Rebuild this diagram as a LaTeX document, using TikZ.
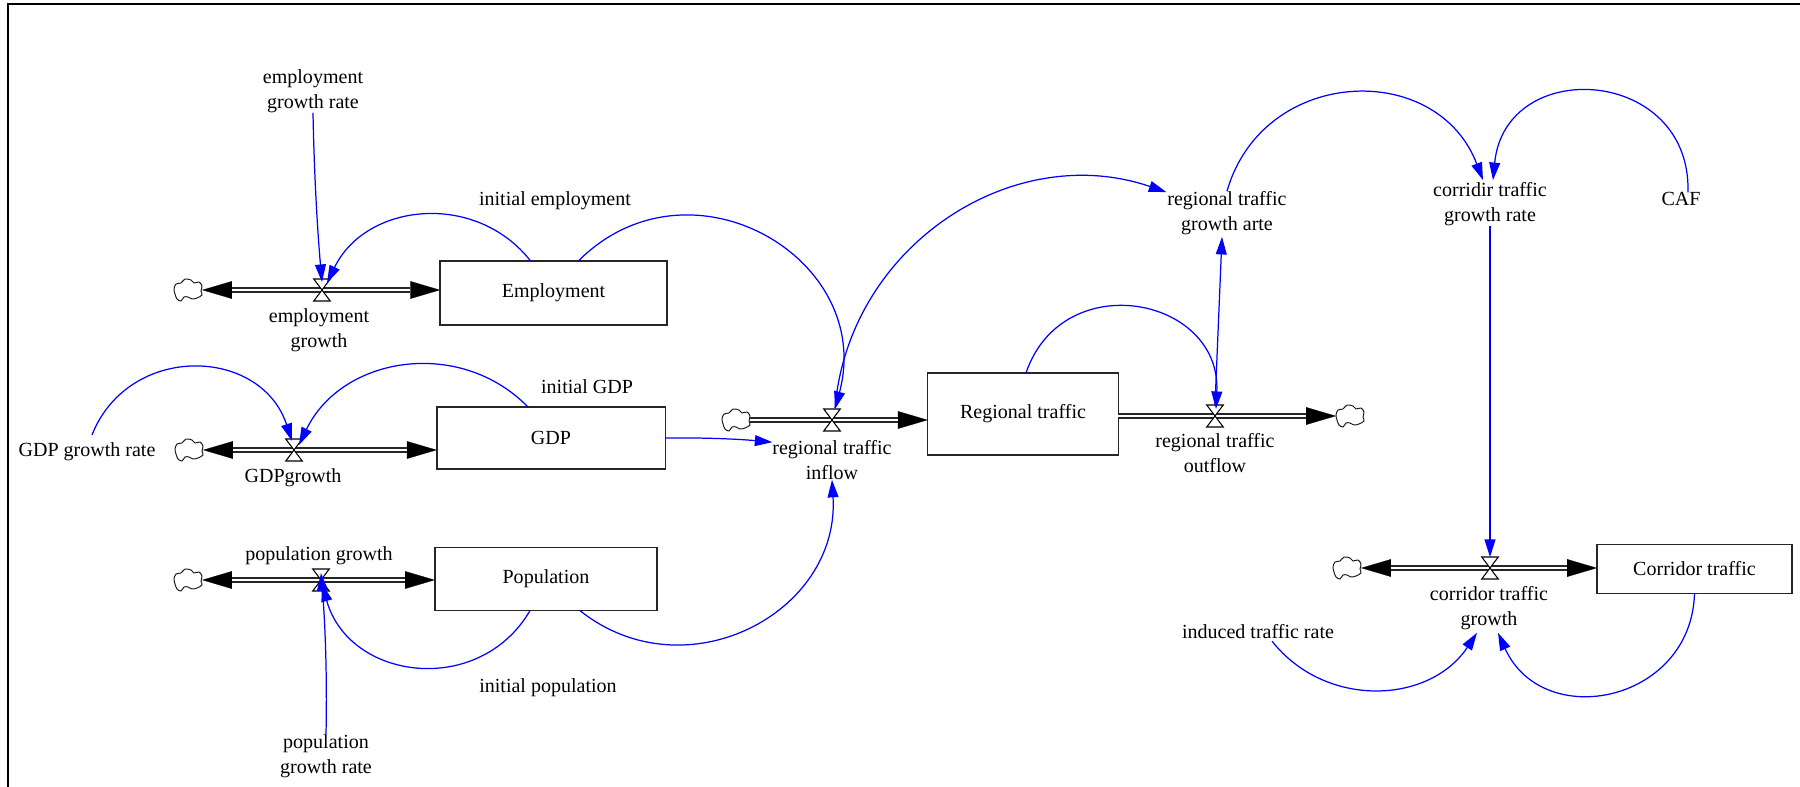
\documentclass[tikz,border=0pt]{standalone}
\usepackage{fontspec}
\setmainfont{Liberation Serif}
\usetikzlibrary{arrows.meta,calc}
\definecolor{linkblue}{RGB}{0,0,255}
\tikzset{
  lbl/.style={align=center,inner sep=0pt,outer sep=0pt,text=black,font=\fontsize{11.4}{14.4}\selectfont},
  stock/.style={draw=black!85,line width=0.8pt,fill=white,inner sep=0pt,outer sep=0pt,lbl},
  vnode/.style={inner sep=0pt,outer sep=0pt,minimum width=9.4pt,minimum height=12.5pt},
  cnode/.style={inner sep=0pt,outer sep=0pt,minimum width=16pt,minimum height=12.5pt},
  bow/.style={draw=black,line width=0.6pt,fill=white,line join=miter},
  pipe/.style={double=white,draw=black!85,line width=0.75pt,double distance=1.7pt},
  heavy/.style={draw=black,line width=0.1pt,-{Triangle[length=17pt,width=10pt,fill=black]}},
  link/.style={draw=linkblue,line width=0.7pt,-{Triangle[length=10pt,width=6.2pt,fill=linkblue]}},
  puff/.style={draw=black!90,line width=0.55pt,fill=white},
  arcb/.code={\pgfmathsetmacro\lo{1/(3*cos((#1)/2)^2)/0.3915}\tikzset{bend left=#1,looseness=\lo}}
}
\newcommand{\valve}[3]{%
  \node[vnode] (#1) at (#2,#3) {};
  \draw[bow] (#1.north west) -- (#1.north east) -- (#1.south west) -- (#1.south east) -- cycle;}
\newcommand{\puffcloud}[3]{%
  \node[cnode] (#1) at (#2,#3) {};
  \draw[puff,shift={(#1.center)}] plot[smooth cycle,tension=0.55] coordinates {(-14,-1) (-12,-6) (-7,-7) (-3,-11) (3,-10) (6,-7) (11,-8) (14,-4) (13,1) (14,5) (9,8) (4,9) (0,7) (-4,7) (-7,11) (-11,9) (-13,4)};}
\begin{document}
\begin{tikzpicture}[x=0.02cm,y=-0.02cm]
\useasboundingbox (0,0) rectangle (1800,787);
\coordinate (fa) at (8,787); \coordinate (fb) at (8,4); \coordinate (fc) at (1800,4);
\draw[black,line width=1.2pt] (fa) -- (fb) -- (fc);

% stocks
\node[stock,minimum width=129pt,minimum height=36.6pt] (emp) at (553.5,293) {\raisebox{-1pt}{Employment}};
\node[stock,minimum width=130pt,minimum height=35.3pt] (gdp) at (551,438) {GDP};
\node[stock,minimum width=126.5pt,minimum height=36pt] (pop) at (546,579) {\raisebox{-1pt}{Population}};
\node[stock,minimum width=108.4pt,minimum height=46.7pt] (reg) at (1023,414) {\raisebox{-0.5pt}{Regional traffic}};
\node[stock,minimum width=111pt,minimum height=27.9pt] (cor) at (1694.5,569) {Corridor traffic};

% clouds
\puffcloud{c1}{188}{290}
\puffcloud{c2}{189}{450}
\puffcloud{c3}{188}{580}
\puffcloud{c4}{736}{420}
\puffcloud{c5}{1350}{416}
\puffcloud{c6}{1347}{568}

% valves as nodes first, so the flows can name them
\node[vnode] (v1) at (322,290) {};
\node[vnode] (v2) at (294,450) {};
\node[vnode] (v3) at (321,580) {};
\node[vnode] (v4) at (832,420) {};
\node[vnode] (v5) at (1215,416) {};
\node[vnode] (v6) at (1490,568) {};

% flows
\draw[heavy] (v1) -- (c1.east);
\draw[heavy] (v1) -- (v1 -| emp.west);
\draw[pipe,shorten <=17pt,shorten >=17pt] (c1.east) -- (c1.east -| emp.west);
\draw[heavy] (v2) -- (c2.east);
\draw[heavy] (v2) -- (v2 -| gdp.west);
\draw[pipe,shorten <=17pt,shorten >=17pt] (c2.east) -- (c2.east -| gdp.west);
\draw[heavy] (v3) -- (c3.east);
\draw[heavy] (v3) -- (v3 -| pop.west);
\draw[pipe,shorten <=17pt,shorten >=17pt] (c3.east) -- (c3.east -| pop.west);
\draw[heavy] (v4) -- (v4 -| reg.west);
\draw[pipe,shorten >=17pt] (c4.east) -- (c4.east -| reg.west);
\draw[heavy] (v5) -- (c5.west);
\draw[pipe,shorten >=17pt] (c5.west -| reg.east) -- (c5.west);
\draw[heavy] (v6) -- (c6.east);
\draw[heavy] (v6) -- (v6 -| cor.west);
\draw[pipe,shorten <=17pt,shorten >=17pt] (c6.east) -- (c6.east -| cor.west);

% valve glyphs
\foreach \v in {v1,v2,v3,v4,v5,v6}{
  \draw[bow] (\v.north west) -- (\v.north east) -- (\v.south west) -- (\v.south east) -- cycle;}

% labels
\node[lbl] (egr) at (313,91) {employment\\growth rate};
\node[lbl] (iemp) at (555,201) {initial employment};
\node[lbl] (eg) at (319,330) {employment\\growth};
\node[lbl] (igdp) at (587,387) {initial GDP};
\node[lbl] (ggr) at (87,452) {GDP growth rate};
\node[lbl] (gg) at (293,478) {GDPgrowth};
\node[lbl] (pg) at (319,556) {population growth};
\node[lbl] (ipop) at (548,688) {initial population};
\node[lbl] (pgr) at (326,756) {population\\growth rate};
\node[lbl] (inf) at (832,460) {regional traffic\\inflow};
\node[lbl] (out) at (1215,453) {regional traffic\\outflow};
\node[lbl] (rgr) at (1227,213) {regional traffic\\growth arte};
\node[lbl] (cgr) at (1490,204) {corridir traffic\\growth rate};
\node[lbl] (caf) at (1681,199) {CAF};
\node[lbl] (cg) at (1489,608) {corridor traffic\\growth};
\node[lbl] (itr) at (1258,632) {induced traffic rate};

% links
\draw[link,arcb=-2] (egr.south) to ($(v1.north)+(0,3)$);
\draw[link,arcb=-58] ($(emp.north)+(-23,0)$) to ($(v1.north)+(5,4)$);
\draw[link,arcb=75] ($(emp.north)+(25,0)$) to ($(v4.north)+(3,0)$);
\draw[link,arcb=70] ($(ggr.north)+(5,-8)$) to ($(v2.north)+(-2,2)$);
\draw[link,arcb=-55] ($(gdp.north)+(-23,0)$) to ($(v2.north)+(5,6)$);
\draw[link,arcb=3] (gdp.east) to ($(inf.north west)+(0,2)$);
\draw[link,arcb=67] ($(pop.south)+(-16,0)$) to ($(v3.south)+(1,-7)$);
\draw[link,arcb=-66] ($(pop.south)+(34,0)$) to (inf.south);
\draw[link,arcb=-3] (pgr.north) to ($(v3.north)+(0,4)$);
\draw[link,arcb=52] ($(v4.north)+(3,-1)$) to ($(rgr.north west)+(-1,1)$);
\draw[link,arcb=82] ($(reg.north)+(3,0)$) to ($(v5.north)+(1,4)$);
\draw[link] (v5.north) -- ($(rgr.south)+(-5,2)$);
\draw[link,arcb=71.5] ($(rgr.north)+(0,0)$) to ($(cgr.north)+(-7,-2)$);
\draw[link,arcb=-88] ($(caf.north)+(7,0)$) to ($(cgr.north)+(3,-2)$);
\draw[link] (cgr.south) -- (v6.north);
\draw[link,arcb=-54] ($(itr.south)+(14,2)$) to ($(cg.south)+(-12,3)$);
\draw[link,arcb=77] ($(cor.south)+(0,0)$) to ($(cg.south)+(9,3)$);
\end{tikzpicture}
\end{document}
